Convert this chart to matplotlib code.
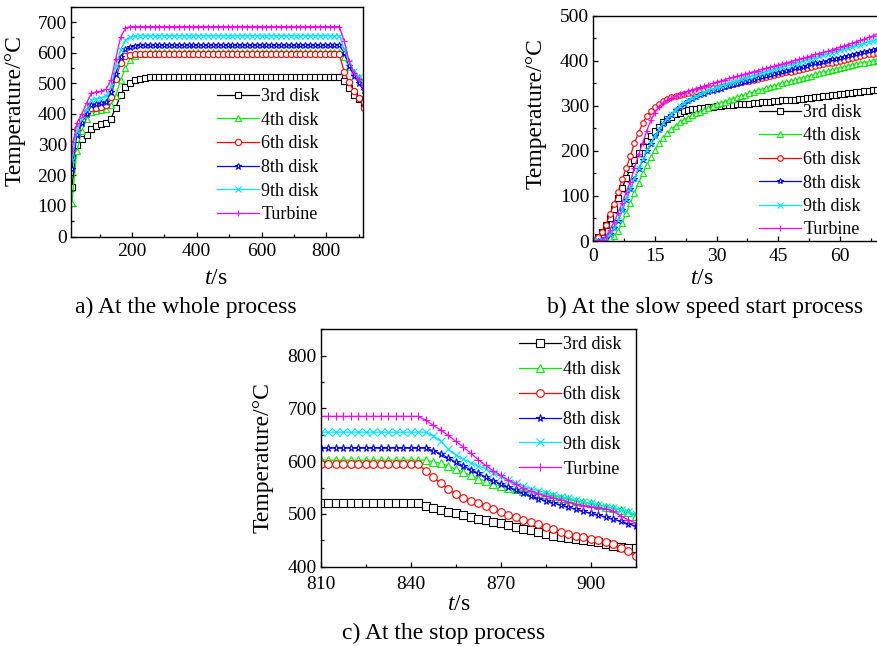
import matplotlib
matplotlib.use("Agg")
import matplotlib.pyplot as plt
from matplotlib.ticker import MultipleLocator

plt.rcParams["font.family"] = ["Liberation Serif", "DejaVu Serif"]
plt.rcParams["mathtext.fontset"] = "custom"
plt.rcParams["mathtext.rm"] = "Liberation Serif"
plt.rcParams["mathtext.it"] = "Liberation Serif:italic"

labels = ["3rd disk", "4th disk", "6th disk", "8th disk", "9th disk", "Turbine"]
colors = ["#000000", "#00f000", "#ff0000", "#0000ff", "#00e5ff", "#ff00ff"]
markers = ["s", "^", "o", "*", "x", "+"]

# ---- a) whole process, temperature in degC ----
t_whole = [15, 30, 45, 60, 75, 90, 105, 120, 135, 150, 165, 180, 195, 210, 225,
           240, 255, 270, 285, 300, 315, 330, 345, 360, 375, 390, 405, 420, 435,
           450, 465, 480, 495, 510, 525, 540, 555, 570, 585, 600, 615, 630, 645,
           660, 675, 690, 705, 720, 735, 750, 765, 780, 795, 810, 825, 840, 855,
           870, 885, 900, 915]
disk3_whole = [160, 300, 318, 330, 350, 362, 368, 372, 385, 420, 462, 488, 502, 510, 515,
               518, 520, 521, 521, 521, 521, 521, 521, 521, 521, 521, 521, 521, 521,
               521, 521, 521, 521, 521, 521, 521, 521, 521, 521, 521, 521, 521, 521,
               521, 521, 521, 521, 521, 521, 521, 521, 521, 521, 521, 521, 521, 506,
               486, 462, 449, 436]
disk4_whole = [110, 280, 345, 385, 405, 410, 412, 415, 430, 460, 510, 550, 575, 590, 597,
               600, 601, 602, 602, 602, 602, 602, 602, 602, 602, 602, 602, 602, 602,
               602, 602, 602, 602, 602, 602, 602, 602, 602, 602, 602, 602, 602, 602,
               602, 602, 602, 602, 602, 602, 602, 602, 602, 602, 602, 602, 602, 585,
               553, 537, 520, 497]
disk6_whole = [300, 350, 380, 405, 418, 420, 422, 428, 455, 515, 565, 588, 593, 594, 594,
               594, 594, 594, 594, 594, 594, 594, 594, 594, 594, 594, 594, 594, 594,
               594, 594, 594, 594, 594, 594, 594, 594, 594, 594, 594, 594, 594, 594,
               594, 594, 594, 594, 594, 594, 594, 594, 594, 594, 594, 594, 594, 538,
               503, 475, 453, 421]
disk8_whole = [220, 330, 370, 400, 428, 433, 435, 440, 470, 530, 585, 612, 620, 623, 625,
               625, 625, 625, 625, 625, 625, 625, 625, 625, 625, 625, 625, 625, 625,
               625, 625, 625, 625, 625, 625, 625, 625, 625, 625, 625, 625, 625, 625,
               625, 625, 625, 625, 625, 625, 625, 625, 625, 625, 625, 625, 625, 598,
               557, 525, 501, 477]
disk9_whole = [250, 345, 385, 415, 445, 450, 452, 458, 490, 555, 610, 640, 650, 653, 655,
               655, 655, 655, 655, 655, 655, 655, 655, 655, 655, 655, 655, 655, 655,
               655, 655, 655, 655, 655, 655, 655, 655, 655, 655, 655, 655, 655, 655,
               655, 655, 655, 655, 655, 655, 655, 655, 655, 655, 655, 655, 655, 612,
               571, 540, 520, 500]
turbine_whole = [280, 370, 400, 435, 468, 472, 474, 480, 510, 580, 650, 680, 685, 685, 685,
                 685, 685, 685, 685, 685, 685, 685, 685, 685, 685, 685, 685, 685, 685,
                 685, 685, 685, 685, 685, 685, 685, 685, 685, 685, 685, 685, 685, 685,
                 685, 685, 685, 685, 685, 685, 685, 685, 685, 685, 685, 685, 685, 638,
                 573, 534, 514, 483]

# ---- b) slow speed start ----
t_start = [0, 1, 2, 3, 4, 5, 6, 7, 8, 9, 10, 11, 12, 13, 14, 15, 16, 17, 18, 19,
           20, 21, 22, 23, 24, 25, 26, 27, 28, 29, 30, 31, 32, 33, 34, 35, 36, 37,
           38, 39, 40, 41, 42, 43, 44, 45, 46, 47, 48, 49, 50, 51, 52, 53, 54, 55,
           56, 57, 58, 59, 60, 61, 62, 63, 64, 65, 66, 67, 68, 69, 70]
disk3_start = [0, 8, 20, 35, 52, 70, 95, 118, 140, 160,
               180, 195, 208, 222, 234, 245, 254, 263, 270, 276,
               281, 285, 288, 290, 292, 294, 295, 296, 297, 298,
               299, 300, 301, 301, 302, 303, 304, 305, 305, 306,
               307, 308, 309, 309, 310, 311, 312, 313, 313, 314,
               315, 316, 317, 318, 319, 320, 321, 322, 323, 324,
               326, 327, 328, 329, 330, 331, 332, 333, 334, 335, 337]
disk4_start = [0, 0, 0, 2, 6, 12, 22, 40, 62, 85,
               107, 129, 150, 169, 187, 203, 217, 229, 239, 248,
               256, 263, 269, 274, 279, 283, 287, 291, 295, 299,
               303, 306, 309, 313, 316, 319, 322, 325, 328, 331,
               334, 336, 339, 342, 344, 347, 350, 352, 355, 357,
               360, 362, 365, 367, 370, 372, 374, 377, 379, 381,
               384, 386, 388, 390, 392, 394, 396, 398, 400, 402, 404]
disk6_start = [2, 8, 20, 35, 60, 82, 108, 137, 162, 188,
               218, 240, 262, 277, 289, 298, 304, 310, 315, 319,
               322, 325, 327, 329, 331, 333, 334, 336, 337, 339,
               340, 342, 344, 346, 348, 350, 352, 354, 356, 358,
               360, 362, 364, 366, 368, 370, 372, 374, 376, 378,
               380, 382, 384, 386, 388, 390, 392, 394, 396, 398,
               400, 402, 404, 406, 408, 410, 412, 414, 416, 418, 420]
disk8_start = [0, 0, 2, 7, 15, 28, 45, 68, 92, 115,
               138, 160, 180, 199, 216, 232, 246, 259, 270, 280,
               290, 298, 305, 311, 316, 320, 324, 327, 330, 333,
               336, 338, 341, 343, 346, 348, 351, 353, 356, 358,
               361, 363, 366, 368, 371, 373, 376, 378, 380, 383,
               385, 387, 389, 392, 394, 396, 398, 400, 403, 405,
               407, 409, 411, 413, 415, 417, 419, 421, 424, 426, 428]
disk9_start = [0, 0, 2, 7, 15, 28, 46, 69, 93, 117,
               140, 162, 182, 201, 218, 234, 248, 261, 272, 282,
               291, 299, 306, 312, 317, 322, 326, 330, 334, 337,
               341, 344, 347, 350, 353, 356, 359, 362, 364, 367,
               370, 373, 375, 378, 381, 383, 386, 389, 391, 394,
               396, 399, 402, 404, 407, 410, 412, 415, 418, 420,
               423, 426, 428, 431, 434, 436, 439, 442, 444, 447, 450]
turbine_start = [0, 0, 2, 9, 24, 42, 62, 85, 108, 132,
                 162, 192, 218, 245, 268, 285, 298, 307, 313, 318,
                 322, 326, 329, 332, 335, 338, 341, 344, 347, 350,
                 353, 355, 358, 361, 363, 366, 368, 371, 373, 376,
                 378, 381, 383, 386, 388, 391, 393, 396, 398, 401,
                 403, 406, 408, 411, 414, 416, 419, 421, 424, 427,
                 430, 433, 436, 439, 442, 445, 448, 452, 455, 459, 463]

# ---- c) stop process ----
t_stop = [810, 812.5, 815, 817.5, 820, 822.5, 825, 827.5, 830, 832.5, 835, 837.5,
          840, 842.5, 845, 847.5, 850, 852.5, 855, 857.5, 860, 862.5, 865, 867.5,
          870, 872.5, 875, 877.5, 880, 882.5, 885, 887.5, 890, 892.5, 895, 897.5,
          900, 902.5, 905, 907.5, 910, 912.5, 915]
disk3_stop = [521, 521, 521, 521, 521, 521, 521, 521, 521, 521, 521, 521, 521, 521,
              516, 512, 508, 504, 501, 498, 495, 491, 488, 485, 482, 479, 476, 472,
              469, 466, 462, 459, 456, 454, 452, 450, 448, 446, 443, 440, 437, 436, 436]
disk4_stop = [602, 602, 602, 602, 602, 602, 602, 602, 602, 602, 602, 602, 602, 602, 602,
              599, 596, 591, 585, 579, 573, 567, 562, 557, 553, 550, 547, 544,
              541, 539, 537, 534, 531, 528, 525, 522, 520, 517, 514, 511, 508, 503, 497]
disk6_stop = [594, 594, 594, 594, 594, 594, 594, 594, 594, 594, 594, 594, 594, 594,
              582, 570, 558, 547, 538, 530, 524, 521, 515, 509, 503, 498, 494, 489,
              484, 480, 475, 471, 466, 462, 459, 456, 453, 450, 447, 443, 436, 429, 421]
disk8_stop = [625, 625, 625, 625, 625, 625, 625, 625, 625, 625, 625, 625, 625, 625, 625,
              620, 614, 606, 598, 591, 584, 577, 570, 563, 557, 551, 545, 539,
              534, 529, 525, 521, 517, 513, 509, 505, 501, 498, 494, 490, 486, 481, 477]
disk9_stop = [655, 655, 655, 655, 655, 655, 655, 655, 655, 655, 655, 655, 655, 655, 655,
              648, 638, 623, 612, 604, 597, 591, 586, 578, 571, 565, 558, 553,
              548, 544, 540, 536, 533, 530, 527, 523, 520, 517, 514, 511, 508, 504, 500]
turbine_stop = [685, 685, 685, 685, 685, 685, 685, 685, 685, 685, 685, 685, 685, 685,
                678, 668, 659, 649, 638, 627, 615, 603, 592, 582, 573, 564, 556, 549,
                543, 538, 534, 530, 527, 523, 519, 516, 514, 512, 510, 505, 496, 489, 483]

W, H = 878, 646
fig = plt.figure(figsize=(W / 100, H / 100), dpi=100)


def add_panel(left, top, right, bottom):
    # pixel box -> figure fraction
    return fig.add_axes([left / W, 1 - bottom / H, (right - left) / W, (bottom - top) / H])


def draw_panel(ax, t, series, msize):
    for y, lab, c, m in zip(series, labels, colors, markers):
        face = "none" if m in ("x", "+") else "white"
        ax.plot(t, y, color=c, lw=0.9, marker=m, ms=msize, mew=0.8,
                mfc=face, mec=c, label=lab)
    ax.tick_params(which="both", direction="in", top=False, right=False,
                   labelsize=14, width=0.9)
    ax.tick_params(axis="y", pad=3)
    ax.tick_params(axis="x", pad=5)
    ax.tick_params(which="major", length=3.8)
    ax.tick_params(which="minor", length=2.2)
    for s in ax.spines.values():
        s.set_linewidth(1.0)


def add_legend(ax, x, y, spacing):
    ax.legend(loc="upper left", bbox_to_anchor=(x / W, 1 - y / H),
              bbox_transform=fig.transFigure, frameon=False, fontsize=13,
              handlelength=2.3, handletextpad=0.15, labelspacing=spacing,
              borderpad=0, borderaxespad=0, numpoints=1)


# a) whole process
ax_a = add_panel(71, 6.7, 363.3, 236.5)
draw_panel(ax_a, t_whole, [disk3_whole, disk4_whole, disk6_whole, disk8_whole,
                           disk9_whole, turbine_whole], 4.5)
ax_a.set_xlim(12, 914)
ax_a.set_ylim(0, 750)
ax_a.xaxis.set_major_locator(MultipleLocator(200))
ax_a.xaxis.set_minor_locator(MultipleLocator(100))
ax_a.yaxis.set_major_locator(MultipleLocator(100))
ax_a.yaxis.set_minor_locator(MultipleLocator(50))
add_legend(ax_a, 217, 88, 0.37)

# b) slow speed start
ax_b = add_panel(593.4, 15.7, 880.9, 241)
draw_panel(ax_b, t_start, [disk3_start, disk4_start, disk6_start, disk8_start,
                           disk9_start, turbine_start], 4.0)
ax_b.set_xlim(0, 70)
ax_b.set_ylim(0, 500)
ax_b.xaxis.set_major_locator(MultipleLocator(15))
ax_b.xaxis.set_minor_locator(MultipleLocator(7.5))
ax_b.yaxis.set_major_locator(MultipleLocator(100))
ax_b.yaxis.set_minor_locator(MultipleLocator(50))
add_legend(ax_b, 759, 104, 0.36)

# c) stop process
ax_c = add_panel(320.7, 329.3, 635.7, 566.7)
draw_panel(ax_c, t_stop, [disk3_stop, disk4_stop, disk6_stop, disk8_stop,
                          disk9_stop, turbine_stop], 5.5)
ax_c.set_xlim(810, 915)
ax_c.set_ylim(400, 850)
ax_c.xaxis.set_major_locator(MultipleLocator(30))
ax_c.xaxis.set_minor_locator(MultipleLocator(15))
ax_c.yaxis.set_major_locator(MultipleLocator(100))
ax_c.yaxis.set_minor_locator(MultipleLocator(50))
ax_c.tick_params(axis="x", pad=7)
add_legend(ax_c, 519, 336, 0.44)

# axis titles and captions
ylab = "Temperature/\u00b0C"
for x, y in [(15, 111), (536, 114), (263, 458)]:
    fig.text(x / W, 1 - y / H, ylab, rotation=90, ha="center", va="center", fontsize=17)
for x, y in [(216, 278), (702, 279), (459, 605)]:
    fig.text(x / W, 1 - y / H, r"$t$/s", ha="center", va="center", fontsize=17)

fig.text(185.5 / W, 1 - 313 / H, "a) At the whole process", ha="center",
         va="baseline", fontsize=17)
fig.text(705 / W, 1 - 313 / H, "b) At the slow speed start process", ha="center",
         va="baseline", fontsize=17)
fig.text(444 / W, 1 - 639 / H, "c) At the stop process", ha="center",
         va="baseline", fontsize=17)

fig.savefig("out.png", dpi=100)
